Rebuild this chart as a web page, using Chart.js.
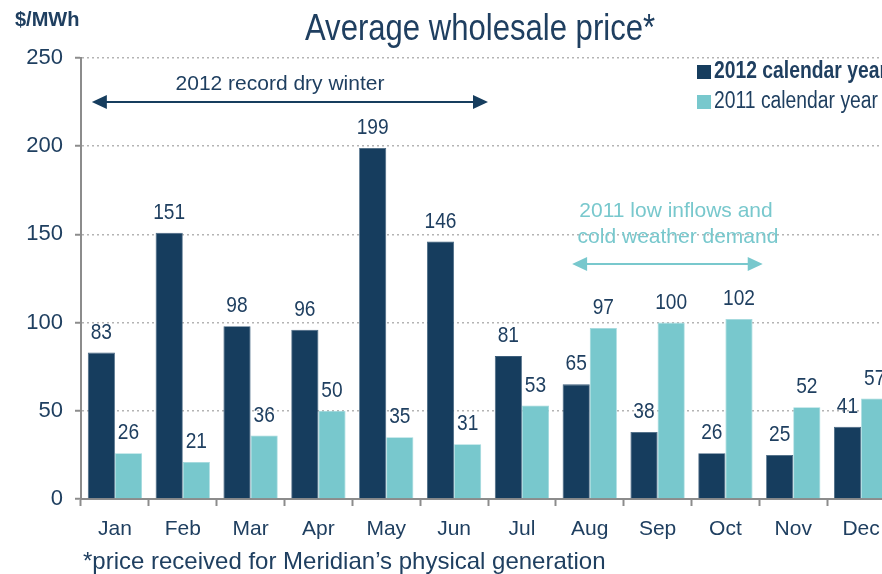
<!DOCTYPE html>
<html>
<head>
<meta charset="utf-8">
<script src="https://cdn.jsdelivr.net/npm/chart.js@4"></script>
<style>
  html, body { margin: 0; padding: 0; overflow: hidden; background: #fff; }
  #wrap { position: relative; width: 896px; height: 574px; }
</style>
</head>
<body>
<div id="wrap"><canvas id="priceChart"></canvas></div>
<script>
const months = ["Jan", "Feb", "Mar", "Apr", "May", "Jun", "Jul", "Aug", "Sep", "Oct", "Nov", "Dec"];
const price2012 = [83, 151, 98, 96, 199, 146, 81, 65, 38, 26, 25, 41];
const price2011 = [26, 21, 36, 50, 35, 31, 53, 97, 100, 102, 52, 57];
const yTicks = [0, 50, 100, 150, 200, 250];

const DARK = "#163d5e";
const LIGHT = "#78c8cd";
const TEXT = "#1f3f60";
const SANS = "'Liberation Sans', Arial, sans-serif";

// narrow-looking text: regular sans squeezed horizontally
function squeezed(ctx, str, x, y, font, sx) {
  ctx.save();
  ctx.font = font;
  ctx.translate(x, y);
  ctx.scale(sx, 1);
  ctx.fillText(str, 0, 0);
  ctx.restore();
}

// labels above the bars, annotations, title and footnote
const extras = {
  id: "extras",
  afterDatasetsDraw(chart) {
    const { ctx, scales: { x } } = chart;
    ctx.save();
    ctx.fillStyle = TEXT;
    ctx.textAlign = "center";
    ctx.textBaseline = "bottom";
    chart.data.datasets.forEach((ds, di) => {
      chart.getDatasetMeta(di).data.forEach((bar, i) => {
        squeezed(ctx, String(ds.data[i]), bar.x, bar.y - 9, `22px ${SANS}`, 0.87);
      });
    });

    // arrows
    const arrow = (x1, x2, y, color) => {
      ctx.strokeStyle = color;
      ctx.fillStyle = color;
      ctx.lineWidth = 2;
      ctx.beginPath();
      ctx.moveTo(x1 + 10, y);
      ctx.lineTo(x2 - 10, y);
      ctx.stroke();
      ctx.beginPath();
      ctx.moveTo(x1, y); ctx.lineTo(x1 + 15, y - 7); ctx.lineTo(x1 + 15, y + 7); ctx.closePath();
      ctx.moveTo(x2, y); ctx.lineTo(x2 - 15, y - 7); ctx.lineTo(x2 - 15, y + 7); ctx.closePath();
      ctx.fill();
    };
    arrow(x.getPixelForValue(-0.34), x.getPixelForValue(5.5), 102, DARK);
    arrow(x.getPixelForValue(6.74), x.getPixelForValue(9.55), 264, LIGHT);

    ctx.font = `21px ${SANS}`;
    ctx.textBaseline = "middle";
    ctx.fillStyle = TEXT;
    ctx.fillText("2012 record dry winter", 280, 84);
    ctx.fillStyle = LIGHT;
    ctx.fillText("2011 low inflows and", 676, 211);
    ctx.fillText("cold weather demand", 678, 237);

    // title & unit
    ctx.fillStyle = TEXT;
    squeezed(ctx, "Average wholesale price*", 480, 30, `37px ${SANS}`, 0.84);
    ctx.textAlign = "left";
    ctx.font = `bold 20px ${SANS}`;
    ctx.fillText("$/MWh", 15, 20);

    // footnote
    ctx.font = `24px ${SANS}`;
    ctx.fillText("*price received for Meridian\u2019s physical generation", 83, 562);

    // legend
    const items = [["2012 calendar year", DARK, "bold "], ["2011 calendar year", LIGHT, ""]];
    items.forEach(([label, color, weight], k) => {
      const y = 72 + k * 30;
      ctx.fillStyle = color;
      ctx.fillRect(697, y - 7, 14, 14);
      ctx.fillStyle = TEXT;
      squeezed(ctx, label, 714, y, `${weight}23px ${SANS}`, 0.84);
    });
    ctx.restore();
  }
};

new Chart(document.getElementById("priceChart"), {
  type: "bar",
  data: {
    labels: months,
    datasets: [
      { label: "2012 calendar year", data: price2012, backgroundColor: DARK, borderColor: "#3d5f7c", borderWidth: 0.8 },
      { label: "2011 calendar year", data: price2011, backgroundColor: LIGHT, borderColor: "#9ed8dc", borderWidth: 0.8 }
    ]
  },
  options: {
    responsive: true,
    maintainAspectRatio: false,
    animation: false,
    layout: { padding: { top: 58, right: 1, left: 0, bottom: 0 } },
    datasets: { bar: { categoryPercentage: 0.8, barPercentage: 1.0 } },
    plugins: { legend: { display: false }, title: { display: false }, tooltip: { enabled: false } },
    scales: {
      x: {
        offset: true,
        afterFit: (axis) => { axis.height = 75; },
        grid: { offset: true, drawOnChartArea: false, drawTicks: true, tickLength: 7, tickColor: "#8c8c8c", tickWidth: 2 },
        border: { color: "#8c8c8c", width: 2 },
        ticks: { color: TEXT, font: { family: SANS, size: 21 }, padding: 11 }
      },
      y: {
        min: 0,
        max: 250,
        afterFit: (axis) => { axis.width = 81; },
        afterBuildTicks: (axis) => { axis.ticks = yTicks.map(v => ({ value: v })); },
        grid: { color: "#b4b4b4", lineWidth: 1.5, tickLength: 6, tickColor: "#8c8c8c", tickWidth: 2, tickBorderDash: [] },
        border: { color: "#8c8c8c", width: 2, dash: [2, 3] },
        ticks: { color: TEXT, font: { family: SANS, size: 22 }, padding: 12 }
      }
    }
  },
  plugins: [extras]
});
</script>
</body>
</html>
